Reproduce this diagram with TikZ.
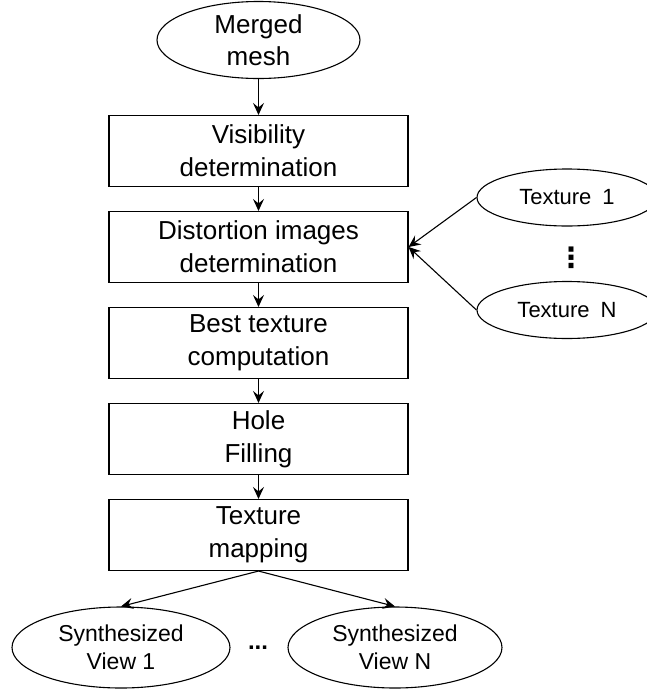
\documentclass[tikz,border=0pt]{standalone}
\usepackage{fontspec}
\setmainfont{Liberation Sans}
\newfontfamily\symfont{DejaVu Sans}
\usetikzlibrary{arrows.meta,positioning,shapes.geometric}

\begin{document}
\begin{tikzpicture}[->, >={Stealth[length=12pt,width=11pt,inset=4.5pt]}, line width=1.1pt, x=1pt, y=-1pt, node distance=96pt]
	\tikzstyle{every node}=[align=center,text=black]
	\tikzstyle{step box}=[rectangle,draw=black,minimum width=299pt,minimum height=71pt,inner sep=0pt,font=\fontsize{26}{33}\selectfont]
	\tikzstyle{data}=[ellipse,draw=black,inner sep=0pt]
	\useasboundingbox (0,0) rectangle (647,689);

	\node[step box]    (V) at (258.5,151)   {Visibility\\determination};
	\node[data,minimum width=203pt,minimum height=77pt,font=\fontsize{26}{32}\selectfont]    (M)[above of=V,node distance=111pt]   {Merged\\mesh};
	\node[step box]    (D)[below of=V]   {Distortion images\\determination};
	\node[step box]    (B)[below of=D]   {Best texture\\computation};
	\node[step box]    (H)[below of=B]   {Hole\\Filling};
	\node[step box]    (T)[below of=H]   {Texture\\mapping};

	\node[data,minimum width=180pt,minimum height=57pt,font=\fontsize{22}{26}\selectfont]    (T1) at (567,197.5)   {Texture\enspace1};
	\node[data,minimum width=180pt,minimum height=57pt,font=\fontsize{22}{26}\selectfont]    (TN) at (567,310)   {Texture\enspace N};
	\node[font=\fontsize{28}{30}\symfont\bfseries]    (VD) at (571,258)   {⋮};

	\node[data,minimum width=218pt,minimum height=81pt,font=\fontsize{23}{28}\selectfont]    (S1) at (121,647.5)   {Synthesized\\View 1};
	\node[data,minimum width=214pt,minimum height=81pt,font=\fontsize{23}{28}\selectfont]    (SN) at (395,647.5)   {Synthesized\\View N};
	\node[font=\fontsize{24}{28}\selectfont\bfseries]    (HD) at (258,648)   {...};

	\path
	(M) edge (V)
	(V) edge (D)
	(D) edge (B)
	(B) edge (H)
	(H) edge (T);

	\path
	(T1.west) edge (D.east)
	(TN.west) edge (D.east);

	\path
	(T.south) edge (S1.north)
	(T.south) edge (SN.north);
\end{tikzpicture}
\end{document}
